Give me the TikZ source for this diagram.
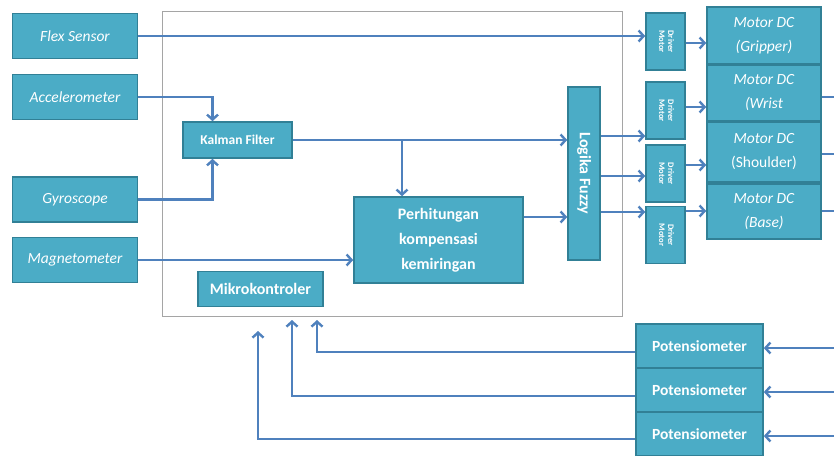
\documentclass[tikz,border=0pt]{standalone}
\usepackage{fontspec}
\setmainfont{Carlito}
\usetikzlibrary{arrows.meta,positioning,calc}
\definecolor{boxfill}{RGB}{75,172,198}
\definecolor{boxedge}{RGB}{49,128,150}
\definecolor{flowcol}{RGB}{79,129,189}
\definecolor{framecol}{RGB}{165,165,165}
\tikzset{
  blkbox/.style={draw=boxedge, fill=boxfill, line width=1.6pt, text=white, inner sep=1pt, align=center},
  sensbox/.style={blkbox, font=\fontsize{15.5}{17}\selectfont\itshape, minimum width=125pt, minimum height=45pt},
  procbox/.style={blkbox, font=\fontsize{16}{25}\selectfont\bfseries},
  drvbox/.style={blkbox, font=\fontsize{8.5}{9}\selectfont\bfseries, minimum width=39pt, minimum height=57pt},
  motbox/.style={blkbox, font=\fontsize{15.5}{24}\selectfont\itshape, minimum width=114pt},
  potbox/.style={procbox, font=\fontsize{15.5}{17}\selectfont\bfseries, minimum width=127pt, minimum height=44pt},
  flowln/.style={-{Straight Barb[length=5pt,width=11pt]}, line width=2.4pt, flowcol},
  plainln/.style={line width=2.4pt, flowcol},
  frameln/.style={draw=framecol, line width=1pt},
}
\begin{document}
\begin{tikzpicture}[x=1pt,y=-1pt]
  \useasboundingbox (0,0) rectangle (834,455);
  % controller frame
  \draw[frameln] (162,11) rectangle (622,316);
  % sensors
  \node[sensbox] (flex) at (75,36) {Flex Sensor};
  \node[sensbox] (accel) at (75,97) {Accelerometer};
  \node[sensbox] (gyro) at (75,199.5) {Gyroscope};
  \node[sensbox] (magnet) at (75,260) {Magnetometer};
  % processing blocks
  \node[procbox, font=\fontsize{13.5}{15}\selectfont\bfseries, minimum width=109pt, minimum height=36pt] (kalman) at (237.5,140) {Kalman Filter};
  \node[procbox, minimum width=125pt, minimum height=35pt] (mikro) at (260.5,289) {Mikrokontroler};
  \node[procbox, minimum width=169pt, minimum height=86pt] (perhit) at (438.5,240) {Perhitungan\\kompensasi\\kemiringan};
  \node[procbox, minimum width=32pt, minimum height=173pt] (fuzzy) at (584,173.5) {\rotatebox{-90}{Logika Fuzzy}};
  % motor drivers
  \foreach \i/\y in {1/41.5, 2/110.5, 3/173.5, 4/235}
    \node[drvbox] (dm\i) at (665.5,\y) {\rotatebox{-90}{\begin{tabular}{@{}c@{}}Driver\\Motor\end{tabular}}};
  % motors
  \node[motbox, minimum height=57pt] (grip) at (764,35.5) {Motor DC\\(Gripper)};
  \node[motbox, minimum height=56pt] (wrist) at (764,93) {Motor DC\\(Wrist};
  \node[motbox, minimum height=60pt] (shoul) at (764,152) {Motor DC\\\upshape(Shoulder)};
  \node[motbox, minimum height=55pt] (base) at (764,211.5) {Motor DC\\(Base)};
  % potentiometers
  \foreach \i/\y in {1/346, 2/390, 3/434}
    \node[potbox] (pot\i) at (699.5,\y) {Potensiometer};
  % sensor paths
  \draw[flowln] (flex.east) -- (flex.east -| dm1.west);
  \draw[flowln] (accel.east) -| ([xshift=-25pt]kalman.north);
  \draw[flowln] (gyro.east) -| ([xshift=-25pt]kalman.south);
  \draw[flowln] (magnet.east) -- (magnet.east -| perhit.west);
  \draw[flowln] (kalman.east) -- (kalman.east -| fuzzy.west);
  \coordinate (kbr) at (402,140);
  \draw[flowln] (kbr) -- (kbr |- perhit.north);
  \draw[flowln] ([yshift=23pt]perhit.east) coordinate (pout) -- (pout -| fuzzy.west);
  % fuzzy to drivers
  \draw[flowln] ([yshift=37.5pt]fuzzy.east) coordinate (f2) -- (f2 -| dm2.west);
  \draw[flowln] ([yshift=-2.5pt]fuzzy.east) coordinate (f3) -- (f3 -| dm3.west);
  \draw[flowln] ([yshift=-38.5pt]fuzzy.east) coordinate (f4) -- (f4 -| dm4.west);
  % drivers to motors
  \draw[flowln] ([yshift=-1.5pt]dm1.east) coordinate (d1) -- (d1 -| grip.west);
  \draw[flowln] ([yshift=3.5pt]dm2.east) coordinate (d2) -- (d2 -| wrist.west);
  \draw[flowln] ([yshift=8.5pt]dm3.east) coordinate (d3) -- (d3 -| shoul.west);
  \draw[flowln] ([yshift=24pt]dm4.east) coordinate (d4) -- (d4 -| base.west);
  % motor shafts to the potentiometers (off picture)
  \coordinate (wout) at (834,97);
  \coordinate (sout) at (834,154);
  \coordinate (bout) at (834,211);
  \draw[plainln] (wrist.east |- wout) -- (wout);
  \draw[plainln] (shoul.east |- sout) -- (sout);
  \draw[plainln] (base.east |- bout) -- (bout);
  % feedback into potentiometers
  \foreach \i/\y in {1/348, 2/392, 3/436} {
    \coordinate (pin\i) at (834,\y);
    \draw[flowln] (pin\i) -- (pin\i -| pot\i.east);
  }
  % potentiometers back to the controller
  \coordinate (m1) at (317,320);
  \coordinate (m2) at (292,320);
  \coordinate (m3) at (258,331);
  \draw[flowln] ([yshift=-6pt]pot1.west) -| (m1);
  \draw[flowln] ([yshift=-6pt]pot2.west) -| (m2);
  \draw[flowln] ([yshift=-5pt]pot3.west) -| (m3);
\end{tikzpicture}
\end{document}
